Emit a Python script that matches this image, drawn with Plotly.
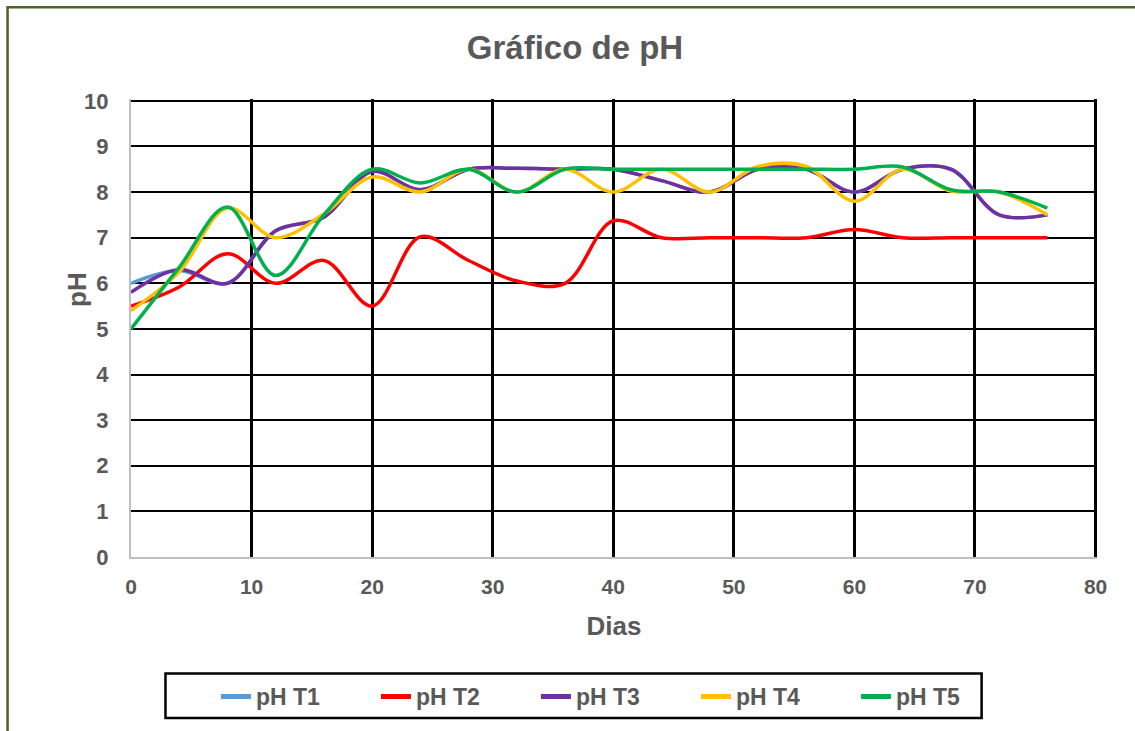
import plotly.graph_objects as go

days = [0, 4, 8, 12, 16, 20, 24, 28, 32, 36, 40, 44, 48, 52, 56, 60, 64, 68, 72, 76]
ph_t1 = [6.0, 6.28, 6.0, 7.15, 7.45, 8.45, 8.05, 8.5, 8.52, 8.5, 8.5, 8.25, 8.0, 8.5, 8.5, 8.0, 8.5, 8.5, 7.5, 7.5]
ph_t2 = [5.5, 5.92, 6.65, 6.0, 6.5, 5.5, 7.02, 6.5, 6.05, 6.0, 7.37, 7.0, 7.0, 7.0, 7.0, 7.18, 7.0, 7.0, 7.0, 7.0]
ph_t3 = [5.8, 6.3, 6.0, 7.15, 7.45, 8.45, 8.05, 8.5, 8.52, 8.5, 8.5, 8.25, 8.0, 8.5, 8.5, 8.0, 8.5, 8.5, 7.5, 7.5]
ph_t4 = [5.4, 6.25, 7.65, 7.0, 7.52, 8.33, 8.0, 8.5, 8.0, 8.5, 8.0, 8.5, 8.0, 8.56, 8.56, 7.8, 8.5, 8.02, 8.0, 7.5]
ph_t5 = [5.0, 6.35, 7.67, 6.17, 7.5, 8.5, 8.2, 8.5, 8.0, 8.5, 8.5, 8.5, 8.5, 8.5, 8.5, 8.5, 8.55, 8.05, 8.0, 7.65]

names = ["pH T1", "pH T2", "pH T3", "pH T4", "pH T5"]
series = [ph_t1, ph_t2, ph_t3, ph_t4, ph_t5]
colors = ["#5B9BD5", "#FF0000", "#7030A0", "#FFC000", "#00B050"]

x_ticks = [0, 10, 20, 30, 40, 50, 60, 70, 80]
y_ticks = [0, 1, 2, 3, 4, 5, 6, 7, 8, 9, 10]
x_range = [0, 80.12]   # tiny extension so the 80 gridline is kept
y_range = [0, 10.04]   # tiny extension so the 10 gridline is kept

FONT = "Liberation Sans, Arial, sans-serif"
GRAY = "#595959"

W, H = 1135, 731
L = 131
pw = 965 * x_range[1] / 80
ph = 456 * y_range[1] / 10
B = H - 557
T = 557 - ph
R = W - L - pw


def px(xp):
    return (xp - L) / pw


def py(yp):
    return (557 - yp) / ph


fig = go.Figure()
for name, vals, col in zip(names, series, colors):
    fig.add_trace(go.Scatter(
        x=days, y=vals, name=name, mode="lines",
        line=dict(color=col, width=3.5, shape="spline", smoothing=1.0),
    ))

fig.update_layout(
    width=W, height=H,
    margin=dict(l=L, r=R, t=T, b=B, autoexpand=False),
    paper_bgcolor="white", plot_bgcolor="white",
    font=dict(family=FONT, color=GRAY),
    title=dict(text="Gráfico de pH", x=575 / W, xref="container", xanchor="center",
               y=1 - 47 / H, yref="container", yanchor="middle",
               font=dict(size=33, color=GRAY, family=FONT, weight="bold")),
    showlegend=True,
    legend=dict(orientation="h", xref="paper", yref="paper",
                x=px(216), xanchor="left",
                y=py(675), yanchor="top",
                borderwidth=0, bgcolor="rgba(0,0,0,0)",
                font=dict(size=23, color=GRAY, family=FONT, weight="bold"),
                entrywidth=115, entrywidthmode="pixels",
                traceorder="normal", itemsizing="constant"),
    annotations=[dict(text="pH", xref="paper", yref="paper",
                      x=px(77), y=py(290),
                      xanchor="center", yanchor="middle", textangle=-90,
                      showarrow=False,
                      font=dict(size=26, color=GRAY, family=FONT, weight="bold"))],
)

fig.update_xaxes(
    range=x_range, tickvals=x_ticks, ticktext=[str(v) for v in x_ticks],
    showgrid=True, gridcolor="black", gridwidth=2.5,
    showline=True, linecolor="#BFBFBF", linewidth=2,
    zeroline=False, ticks="", ticklabelstandoff=10,
    tickfont=dict(size=21, color=GRAY, family=FONT, weight="bold"),
    title=dict(text="Dias", font=dict(size=26, color=GRAY, family=FONT, weight="bold"), standoff=20),
    fixedrange=True,
)
fig.update_yaxes(
    range=y_range, tickvals=y_ticks, ticktext=[str(v) for v in y_ticks],
    showgrid=True, gridcolor="black", gridwidth=1.5,
    showline=True, linecolor="#BFBFBF", linewidth=2,
    zeroline=False, ticks="", ticklabelstandoff=16,
    tickfont=dict(size=22, color=GRAY, family=FONT, weight="bold"),
    fixedrange=True,
)

# outer chart border (dark green)
fig.add_shape(type="rect", xref="paper", yref="paper", layer="below",
              x0=px(7.5), x1=px(W + 20), y0=py(H + 20), y1=py(7.5),
              line=dict(color="#4F6228", width=2.5), fillcolor="rgba(0,0,0,0)")
# legend frame
fig.add_shape(type="rect", xref="paper", yref="paper", layer="below",
              x0=px(165.5), x1=px(982), y0=py(718), y1=py(673.5),
              line=dict(color="black", width=2.5), fillcolor="rgba(0,0,0,0)")

fig.write_html("out.html", config={"displayModeBar": False},
               post_script="document.body.style.margin='0px';")
